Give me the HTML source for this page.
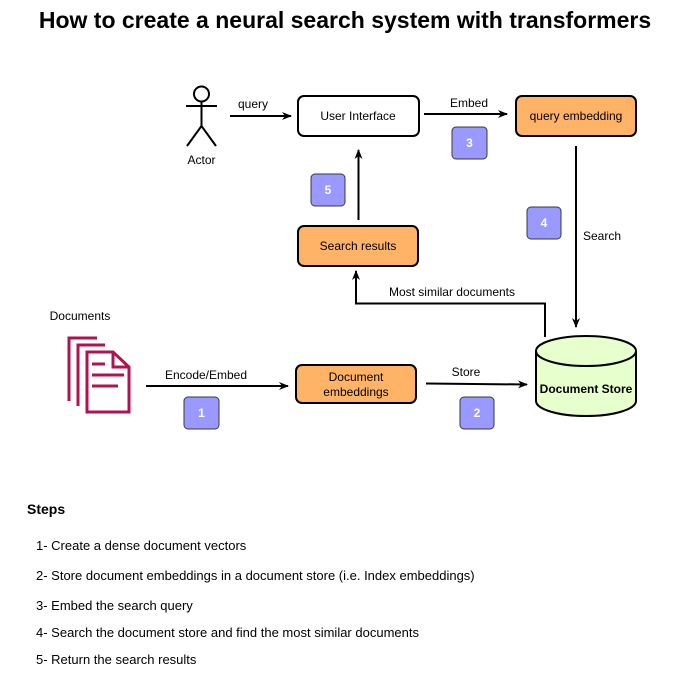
<!DOCTYPE html>
<html><head><style>
body{margin:0;background:#fff;}
svg{display:block;font-family:"Liberation Sans",Arial,sans-serif;}
</style></head><body>
<svg width="691" height="674" viewBox="0 0 691 674" xmlns="http://www.w3.org/2000/svg">
<defs><marker id="a" markerWidth="10" markerHeight="8" refX="9" refY="4" orient="auto" markerUnits="userSpaceOnUse"><path d="M0,0 L10,4 L0,8 L3,4 Z" fill="#000"/></marker></defs>
<text x="345" y="28" text-anchor="middle" font-size="23" font-weight="bold">How to create a neural search system with transformers</text>
<g stroke="#000" stroke-width="2" fill="none">
<circle cx="201.5" cy="94" r="7.5"/>
<line x1="201.5" y1="101.5" x2="201.5" y2="126"/>
<line x1="186" y1="106" x2="217" y2="106"/>
<line x1="201.5" y1="126" x2="187" y2="146"/>
<line x1="201.5" y1="126" x2="216" y2="146"/>
</g>
<text x="201.5" y="164" text-anchor="middle" font-size="12">Actor</text>
<g stroke="#000" stroke-width="2" fill="none" marker-end="url(#a)">
<line x1="230" y1="116" x2="291" y2="116"/>
<line x1="424" y1="114" x2="507" y2="114"/>
<line x1="576" y1="146" x2="576" y2="327"/>
<line x1="358.5" y1="220" x2="358.5" y2="150"/>
<polyline points="545,337 545,303.5 356,303.5 356,271"/>
<line x1="146" y1="386" x2="288" y2="386"/>
<line x1="426" y1="383.5" x2="527" y2="384.5"/>
</g>
<text x="253" y="108" text-anchor="middle" font-size="12">query</text>
<text x="469" y="107" text-anchor="middle" font-size="12">Embed</text>
<text x="583" y="240" font-size="12">Search</text>
<text x="452" y="296" text-anchor="middle" font-size="12">Most similar documents</text>
<text x="206" y="379" text-anchor="middle" font-size="12">Encode/Embed</text>
<text x="466" y="376" text-anchor="middle" font-size="12">Store</text>
<rect x="298" y="96" width="121" height="40" rx="6" fill="#fff" stroke="#000" stroke-width="2"/>
<text x="358" y="120" text-anchor="middle" font-size="12">User Interface</text>
<rect x="516" y="96" width="120" height="40" rx="6" fill="#FFB366" stroke="#000" stroke-width="2"/>
<text x="576" y="120" text-anchor="middle" font-size="12">query embedding</text>
<rect x="298" y="226" width="120" height="40" rx="6" fill="#FFB366" stroke="#000" stroke-width="2"/>
<text x="358" y="250" text-anchor="middle" font-size="12">Search results</text>
<rect x="296" y="365" width="120" height="38" rx="6" fill="#FFB366" stroke="#000" stroke-width="2"/>
<text x="356" y="381" text-anchor="middle" font-size="12">Document</text>
<text x="356" y="396" text-anchor="middle" font-size="12">embeddings</text>
<g fill="#9999FF" stroke="#36393d" stroke-width="1">
<rect x="452" y="127" width="35" height="32" rx="4"/>
<rect x="311" y="174" width="34" height="32" rx="4"/>
<rect x="527" y="207" width="34" height="32" rx="4"/>
<rect x="184" y="397" width="35" height="32" rx="4"/>
<rect x="460" y="397" width="34" height="32" rx="4"/>
</g>
<g fill="#fff" font-size="12" font-weight="bold" text-anchor="middle">
<text x="469.5" y="147">3</text><text x="328" y="194">5</text><text x="544" y="227">4</text><text x="201.5" y="417">1</text><text x="477" y="417">2</text>
</g>
<path d="M536,351 L536,401 A50,15 0 0 0 636,401 L636,351" fill="#E6FFCC" stroke="#000" stroke-width="2"/>
<ellipse cx="586" cy="351" rx="50" ry="15" fill="#E6FFCC" stroke="#000" stroke-width="2"/>
<text x="586" y="393" text-anchor="middle" font-size="12" font-weight="bold">Document Store</text>
<text x="80" y="320" text-anchor="middle" font-size="12">Documents</text>
<g stroke="#B0134F" stroke-width="3" fill="none">
<polyline points="69,401 69,338 97,338"/>
<polyline points="78,406 78,345 105,345"/>
<path d="M87,352 L113,352 L129,367 L129,412 L87,412 Z" fill="#fff"/>
<polyline points="113,352 113,367 129,367"/>
<line x1="92" y1="364" x2="105" y2="364"/>
<line x1="92" y1="375" x2="124" y2="375"/>
<line x1="92" y1="386" x2="118" y2="386"/>
</g>
<text x="27" y="514" font-size="14" font-weight="bold">Steps</text>
<g font-size="13">
<text x="36" y="550">1- Create a dense document vectors</text>
<text x="36" y="580">2- Store document embeddings in a document store (i.e. Index embeddings)</text>
<text x="36" y="610">3- Embed the search query</text>
<text x="36" y="637">4- Search the document store and find the most similar documents</text>
<text x="36" y="664">5- Return the search results</text>
</g>
</svg>
</body></html>
